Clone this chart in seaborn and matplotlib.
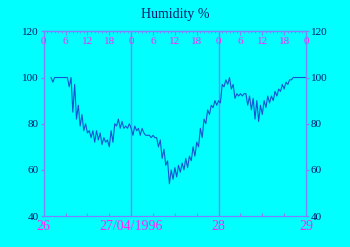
import numpy as np
import pandas as pd
import matplotlib
matplotlib.use("Agg")
import matplotlib.pyplot as plt
import matplotlib.transforms as mtransforms
import seaborn as sns

# ---- data (hours since 26/04/1996 00:00, relative humidity %) ----
hours = [2.0 + 0.5 * i for i in range(141)]
humidity = [
    100, 98, 100, 100, 100, 100, 100, 100, 100, 100,   # 2.0 - 6.5
    96, 100, 85, 97, 82, 88, 79, 84, 77, 80,           # 7.0 - 11.5
    76, 77, 74, 77, 72, 77, 73, 76, 71, 74,            # 12.0 - 16.5
    72, 73, 70, 77, 72, 80, 79, 82, 78, 81,            # 17.0 - 21.5
    78, 79, 78, 80, 78, 75, 79, 77, 78, 75,            # 22.0 - 26.5
    78, 76, 75, 75, 75, 74, 75, 74, 74, 70,            # 27.0 - 31.5
    73, 65, 69, 62, 64, 54, 60, 56, 61, 57,            # 32.0 - 36.5
    62, 59, 63, 60, 65, 61, 66, 64, 70, 66,            # 37.0 - 41.5
    72, 70, 78, 74, 82, 80, 86, 84, 88, 87,            # 42.0 - 46.5
    90, 88, 90, 89, 97, 96, 99, 97, 100, 95,           # 47.0 - 51.5
    97, 91, 93, 92, 93, 92, 93, 93, 88, 92,            # 52.0 - 56.5
    86, 91, 82, 90, 81, 88, 84, 90, 87, 92,            # 57.0 - 61.5
    89, 92, 90, 94, 92, 95, 94, 97, 95, 98,            # 62.0 - 66.5
    97, 99, 99, 100, 100, 100, 100, 100, 100, 100,     # 67.0 - 71.5
    100,                                               # 72.0
]
y_ticks = [40, 60, 80, 100, 120]
top_hour_labels = ["0", "6", "12", "18", "0", "6", "12", "18", "0", "6", "12", "18", "0"]
day_labels = ["26", "27/04/1996", "28", "29"]

df = pd.DataFrame({"hour": hours, "humidity": humidity})

BG = "#00ffff"
AX = "#7a84ff"
NAVY = "#0a1a6e"
MAG = "#ff22ff"
LINE = "#1656d0"
SERIF = ["Liberation Serif", "DejaVu Serif"]

sns.set_style("white")
plt.rcParams["font.family"] = SERIF

fig = plt.figure(figsize=(3.5, 2.47), dpi=100, facecolor=BG)
ax = fig.add_axes([0.1249, 0.1247, 0.7494, 0.7486])
ax.set_facecolor(BG)

sns.lineplot(data=df, x="hour", y="humidity", ax=ax, color=LINE, linewidth=0.8)

ax.set_xlim(0, 72)
ax.set_ylim(40, 120)

for d in (24, 48):
    ax.axvline(d, color=AX, linewidth=1.0, zorder=1)

for s in ax.spines.values():
    s.set_color(AX)
    s.set_linewidth(0.9)

# y ticks both sides
ax.set_yticks(y_ticks)
ax.set_yticklabels([str(v) for v in y_ticks])
ax.tick_params(axis="y", which="both", left=True, right=True, labelleft=True,
               labelright=True, direction="out", length=2.5, width=0.9,
               color=AX, labelcolor=NAVY, labelsize=8, pad=1)

# bottom x ticks: days labels, 6-hour minor ticks
ax.set_xticks([0, 24, 48, 72])
ax.set_xticklabels(day_labels)
ax.set_xticks(list(range(0, 73, 6)), minor=True)
ax.tick_params(axis="x", which="major", bottom=True, top=False, direction="in",
               length=0, color=AX, labelcolor=MAG, labelsize=10, pad=3)
ax.tick_params(axis="x", which="minor", bottom=True, top=False, direction="in",
               length=2, width=0.8, color=AX)

# top axis: hourly ticks, inward
top = ax.secondary_xaxis("top")
top.set_xticks(list(range(0, 73, 6)))
top.set_xticks(list(range(0, 73, 1)), minor=True)
top.tick_params(which="major", direction="in", length=3, width=0.8, color=AX,
                labeltop=False)
top.tick_params(which="minor", direction="in", length=1.5, width=0.6, color=AX)
top.spines["top"].set_color(AX)
top.spines["top"].set_linewidth(0.9)

trans = mtransforms.blended_transform_factory(ax.transData, ax.transAxes)
for h, lab in zip(range(0, 73, 6), top_hour_labels):
    ax.text(h, 0.944, lab, transform=trans, ha="center", va="center",
            color=MAG, fontsize=8, family=SERIF)

ax.set_xlabel("")
ax.set_ylabel("")
fig.text(0.5, 0.94, "Humidity %", ha="center", va="center", color=NAVY,
         fontsize=10, family=SERIF)

fig.savefig("out.png", dpi=100, facecolor=BG)
